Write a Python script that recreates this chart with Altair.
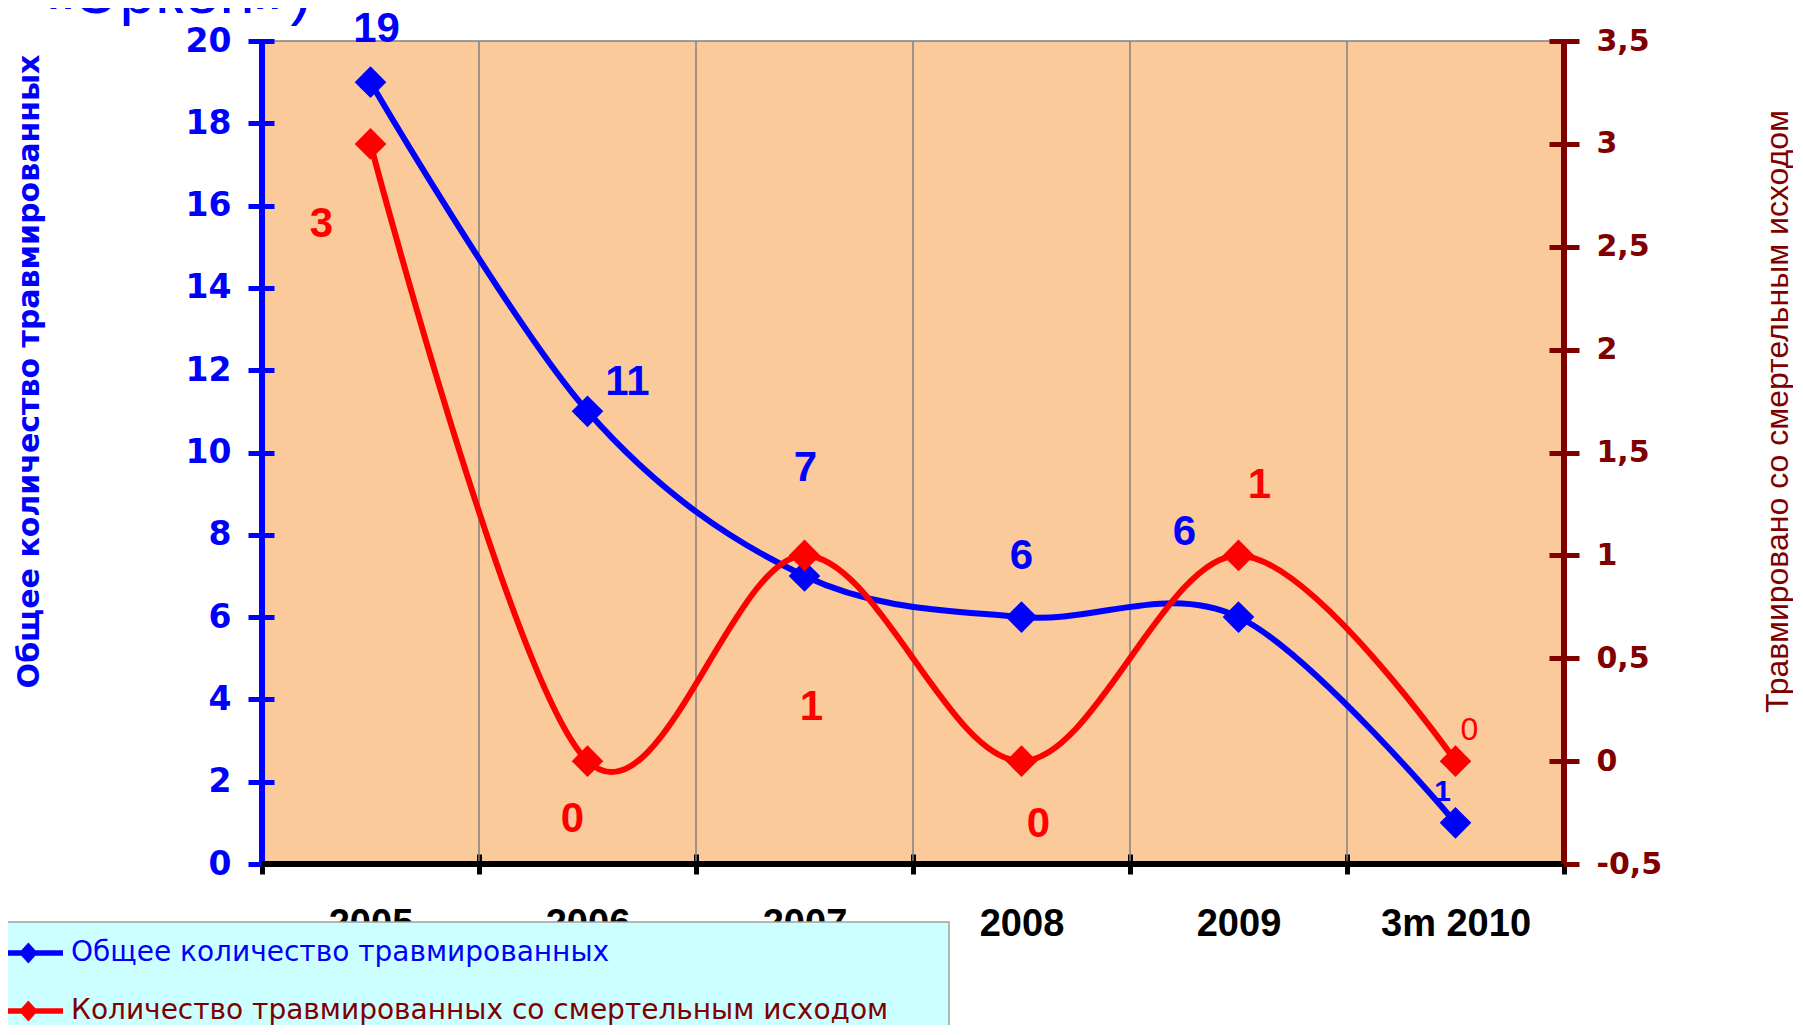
import altair as alt
import pandas as pd

# ---------------- data ----------------
years = ["2005", "2006", "2007", "2008", "2009", "3m 2010"]
total_injured = [19, 11, 7, 6, 6, 1]
fatal_injured = [3, 0, 1, 0, 1, 0]

series_total = "Общее количество травмированных"
series_fatal = "Количество травмированных со смертельным исходом"
left_title = "Общее количество травмированных"
right_title = "Травмировано  со смертельным исходом"
heading = "«Эркен»)"

left_ticks = [0, 2, 4, 6, 8, 10, 12, 14, 16, 18, 20]
right_ticks = [-0.5, 0, 0.5, 1, 1.5, 2, 2.5, 3, 3.5]

# ---------------- styles ----------------
W, H = 1302, 823
BLUE = "#0000FF"
RED = "#FF0000"
DARKRED = "#800000"
PEACH = "#FBCA9A"

# per-label placement (dx, dy, font size, weight)
total_label_style = [(6, -53, 42, "bold"), (40, -29, 42, "bold"), (1, -108, 42, "bold"),
                     (0, -61, 42, "bold"), (-54, -85, 42, "bold"), (-13, -31, 30, "bold")]
fatal_label_style = [(-49, 80, 42, "bold"), (-15, 58, 42, "bold"), (7, 152, 42, "bold"),
                     (17, 63, 42, "bold"), (21, -70, 42, "bold"), (14, -31, 32, "normal")]

df = pd.DataFrame({
    "year": years,
    "total": total_injured,
    "fatal": fatal_injured,
    "s_total": [series_total] * len(years),
    "s_fatal": [series_fatal] * len(years),
})
grid_df = pd.DataFrame({"year": years[1:]})
one = pd.DataFrame({"k": [0]})

x_scale = alt.Scale(type="band", domain=years, paddingInner=0, paddingOuter=0)
X_AXIS = alt.Axis(orient="bottom", title=None, domain=False, grid=False, tickBand="extent",
                  ticks=True, tickColor="#000000", tickWidth=5, tickSize=20, offset=-10,
                  labelAngle=0, labelFont="Liberation Sans", labelFontSize=38,
                  labelFontWeight="bold", labelColor="#000000", labelPadding=31,
                  labelBaseline="top", zindex=0)


def xenc(bp=0.5):
    return alt.X("year:N", scale=x_scale, axis=X_AXIS, bandPosition=bp)


yL = alt.Y("total:Q",
           scale=alt.Scale(domain=[0, 20], nice=False, zero=False),
           axis=alt.Axis(orient="left", values=left_ticks, domain=False, grid=False,
                         tickColor=BLUE, tickWidth=5, tickSize=26, offset=-12,
                         labelFont="DejaVu Sans", labelFontWeight="bold", labelFontSize=33,
                         labelColor=BLUE, labelPadding=17, labelFlush=False, labelOverlap=False,
                         title=left_title, titleFont="DejaVu Sans", titleFontWeight="bold",
                         titleFontSize=30, titleColor=BLUE, titleAngle=270,
                         titleAlign="center", titleBaseline="middle",
                         titleX=-245, titleY=330, zindex=0))

yR = alt.Y("fatal:Q",
           scale=alt.Scale(domain=[-0.5, 3.5], nice=False, zero=False),
           axis=alt.Axis(orient="right", values=right_ticks, domain=False, grid=False,
                         tickColor=DARKRED, tickWidth=5, tickSize=30, offset=-15,
                         labelFont="DejaVu Sans", labelFontWeight="bold", labelFontSize=30,
                         labelColor=DARKRED, labelPadding=17, labelFlush=False, labelOverlap=False,
                         labelExpr="replace(toString(datum.value), '.', ',')",
                         title=right_title, titleFont="Liberation Sans", titleFontWeight="normal",
                         titleFontSize=32, titleColor=DARKRED, titleAngle=270,
                         titleAlign="center", titleBaseline="middle",
                         titleX=228, titleY=370, zindex=0))

LEG_PATH = "M-1,-0.09L1,-0.09L1,0.09L-1,0.09Z M-0.1,-0.33L0.2,0L-0.1,0.33L-0.4,0Z"


def legend(y, color):
    return alt.Legend(orient="none", legendX=-262, legendY=y, title=None,
                      symbolType=LEG_PATH, symbolSize=3969, symbolStrokeWidth=0,
                      symbolOpacity=1, labelFont="DejaVu Sans", labelFontSize=28,
                      labelColor=color, labelOffset=8, padding=0, labelLimit=1500)


# ---------------- base decorations ----------------
grid = alt.Chart(grid_df).mark_rule(color="#808080", strokeWidth=1.5).encode(x=xenc(0))

frame_left = alt.Chart(one).mark_rule(color=BLUE, strokeWidth=6).encode(
    x=alt.value(0), y=alt.value(0), y2=alt.value(H))
frame_bottom = alt.Chart(one).mark_rule(color="#000000", strokeWidth=6).encode(
    x=alt.value(0), x2=alt.value(W), y=alt.value(H))
frame_right = alt.Chart(one).mark_rule(color=DARKRED, strokeWidth=6).encode(
    x=alt.value(W), y=alt.value(0), y2=alt.value(H))

legend_box = alt.Chart(one).mark_rect(fill="#CCFFFF", stroke="#A0A0A0", strokeWidth=1.5).encode(
    x=alt.value(-262), x2=alt.value(687), y=alt.value(881), y2=alt.value(1010))

head = alt.Chart(one).mark_text(text=heading, align="left", baseline="alphabetic",
                                fontSize=64, color=BLUE, font="Liberation Sans").encode(
    x=alt.value(-224), y=alt.value(-28))

base = alt.layer(grid, frame_left, frame_bottom, frame_right, legend_box, head)

# ---------------- series ----------------
def labels(field, styles, color, yenc):
    out = []
    for yr, (dx, dy, fs, fw) in zip(years, styles):
        out.append(
            alt.Chart(df).transform_filter(alt.datum.year == yr)
            .mark_text(dx=dx, dy=dy, fontSize=fs, fontWeight=fw, color=color,
                       font="Liberation Sans", align="center", baseline="middle")
            .encode(x=xenc(), y=yenc, text=alt.Text(f"{field}:Q"))
        )
    return out


blue_line = alt.Chart(df).mark_line(interpolate="cardinal", color=BLUE, strokeWidth=6).encode(
    x=xenc(), y=yL)
blue_pts = alt.Chart(df).mark_point(shape="diamond", filled=True, size=1000, opacity=1).encode(
    x=xenc(), y=yL,
    color=alt.Color("s_total:N", scale=alt.Scale(range=[BLUE]), legend=legend(880.5, BLUE)))
blue = alt.layer(blue_line, blue_pts, *labels("total", total_label_style, BLUE, yL))

red_line = alt.Chart(df).mark_line(interpolate="cardinal", color=RED, strokeWidth=6).encode(
    x=xenc(), y=yR)
red_pts = alt.Chart(df).mark_point(shape="diamond", filled=True, size=1000, opacity=1).encode(
    x=xenc(), y=yR,
    color=alt.Color("s_fatal:N", scale=alt.Scale(range=[RED]), legend=legend(938.5, DARKRED)))
red = alt.layer(red_line, red_pts, *labels("fatal", fatal_label_style, RED, yR))

chart = (
    alt.layer(base, blue, red)
    .resolve_scale(y="independent", color="independent")
    .properties(width=W, height=H,
                autosize=alt.AutoSizeParams(type="none"),
                padding={"left": 254, "top": 33, "right": 229, "bottom": 161})
    .configure(background="white")
    .configure_view(fill=PEACH, stroke="#808080", strokeWidth=1.5)
)

chart.save("out.html", embed_options={"renderer": "svg", "actions": False})
